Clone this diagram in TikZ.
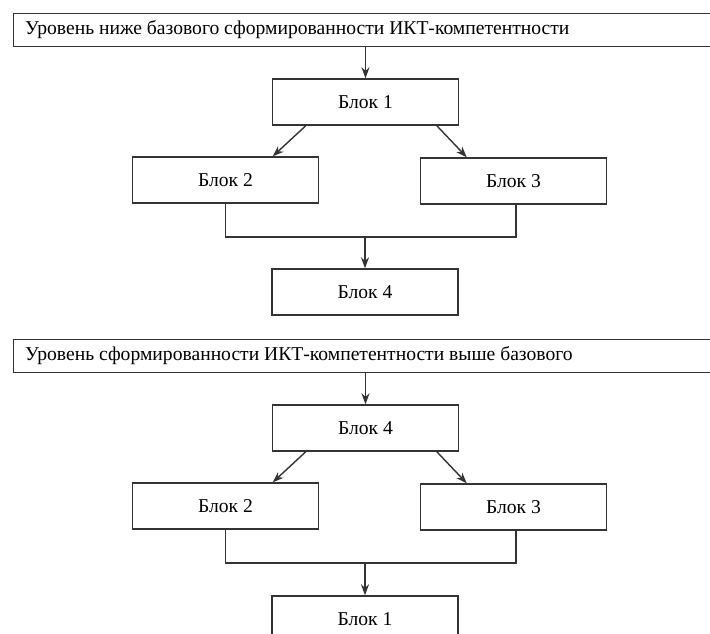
\documentclass[tikz,border=0pt]{standalone}
\usepackage{fontspec}
\setmainfont{Liberation Serif}
\usetikzlibrary{arrows.meta,calc}
\begin{document}
\begin{tikzpicture}[x=1pt,y=-1pt,
  ln/.style={line width=1.4pt, draw=black!80},
  arr/.style={ln, -{Stealth[length=11pt,width=8pt]}},
  blk/.style={ln, rectangle, minimum width=186pt, minimum height=46pt, inner sep=0pt, font=\fontsize{19.6}{23}\selectfont},
  hdr/.style={ln, rectangle, minimum width=707pt, minimum height=33pt, inner sep=0pt, anchor=north west},
  htxt/.style={anchor=west, inner sep=0pt, font=\fontsize{19.6}{23}\selectfont}]
\useasboundingbox (0,0) rectangle (710,634);
% ---- upper part
\node[hdr] (h1) at (13,13) {};
\node[htxt] (h1t) at (25,29.5) {Уровень ниже базового сформированности ИКТ-компетентности};
\node[blk] (a1) at (365.5,102) {Блок 1};
\node[blk] (a2) at (225.5,180) {Блок 2};
\node[blk] (a3) at (513.5,181) {Блок 3};
\node[blk] (a4) at (365,292) {Блок 4};
\coordinate (aj) at (365,237);
\draw[arr] (h1.south -| a1) -- (a1.north);
\draw[arr] ([xshift=34pt]a1.south west) -- ([xshift=141pt]a2.north west);
\draw[arr] ([xshift=165pt]a1.south west) -- ([xshift=47pt]a3.north west);
\draw[ln] (a2.south) -- (a2.south |- aj) -- ([xshift=2.5pt]a3.south |- aj) -- ([xshift=2.5pt]a3.south);
\draw[arr] (aj) -- (a4.north);
% ---- lower part
\node[hdr] (h2) at (13,339) {};
\node[htxt] (h2t) at (25,356) {Уровень сформированности ИКТ-компетентности выше базового};
\node[blk] (b4) at (365.5,428) {Блок 4};
\node[blk] (b2) at (225.5,506) {Блок 2};
\node[blk] (b3) at (513.5,507) {Блок 3};
\node[blk] (b1) at (365,619) {Блок 1};
\coordinate (bj) at (365,563);
\draw[arr] (h2.south -| b4) -- (b4.north);
\draw[arr] ([xshift=34pt]b4.south west) -- ([xshift=141pt]b2.north west);
\draw[arr] ([xshift=165pt]b4.south west) -- ([xshift=47pt]b3.north west);
\draw[ln] (b2.south) -- (b2.south |- bj) -- ([xshift=2.5pt]b3.south |- bj) -- ([xshift=2.5pt]b3.south);
\draw[arr] (bj) -- (b1.north);
\end{tikzpicture}
\end{document}
